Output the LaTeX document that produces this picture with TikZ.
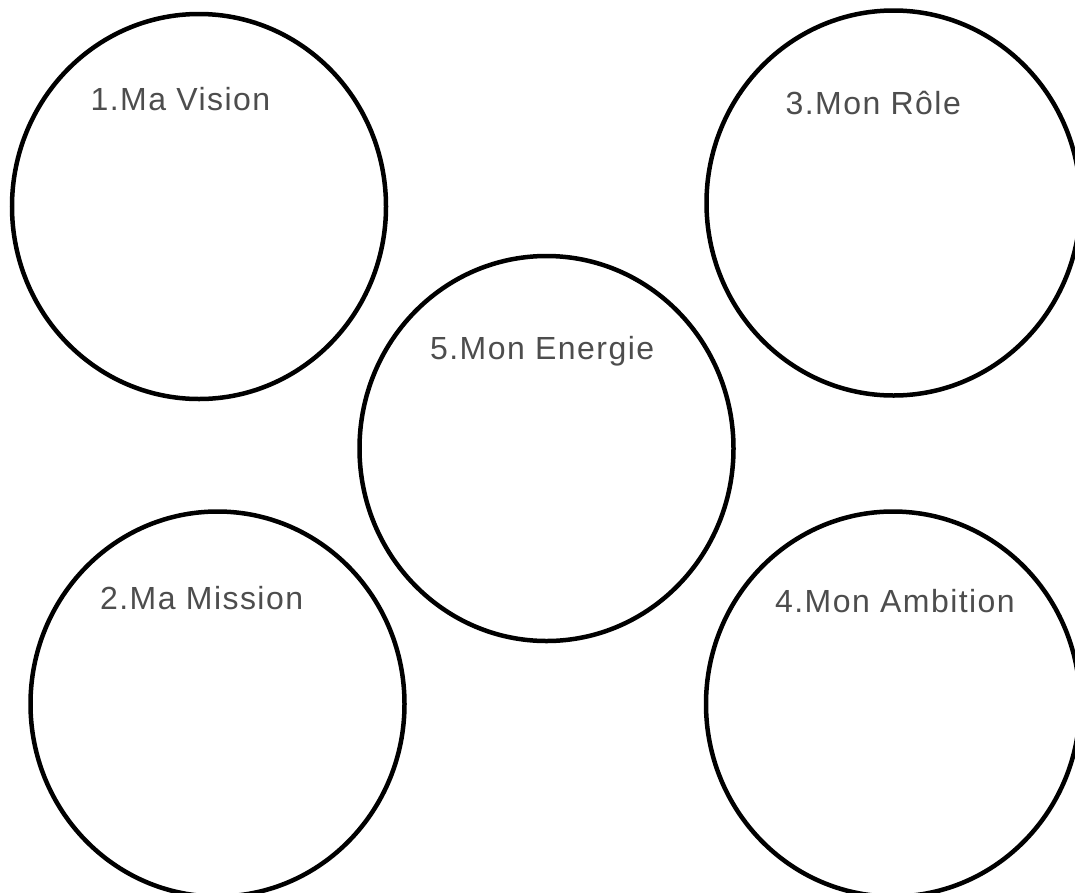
\documentclass[tikz,border=0pt]{standalone}
\usepackage{fontspec}
\setmainfont{Liberation Sans}[LetterSpace=4.5]
\usetikzlibrary{shapes.geometric}
\definecolor{labelgray}{RGB}{77,77,77}
\tikzset{
  ring/.style={ellipse, draw=black, line width=4.5pt, inner sep=0pt,
    minimum width=374pt, minimum height=385pt},
  lbl/.style={anchor=base west, inner sep=0pt, text=labelgray,
    font=\fontsize{32}{38}\selectfont}
}
\begin{document}
\begin{tikzpicture}[x=1pt,y=-1pt]
\useasboundingbox (0,0) rectangle (1075,892);
\node[ring] (c1) at (199,206.5) {};
\node[ring] (c3) at (893.5,203) {};
\node[ring] (c5) at (546.5,448.5) {};
\node[ring] (c2) at (217.5,704) {};
\node[ring] (c4) at (893,704) {};
\node[lbl] (t1) at (90.5,110) {1.Ma Vision};
\node[lbl] (t3) at (785.5,114) {3.Mon Rôle};
\node[lbl] (t5) at (430,359) {5.Mon Energie};
\node[lbl] (t2) at (100,609) {2.Ma Mission};
\node[lbl] (t4) at (775,612.5) {4.Mon Ambition};
\end{tikzpicture}
\end{document}
